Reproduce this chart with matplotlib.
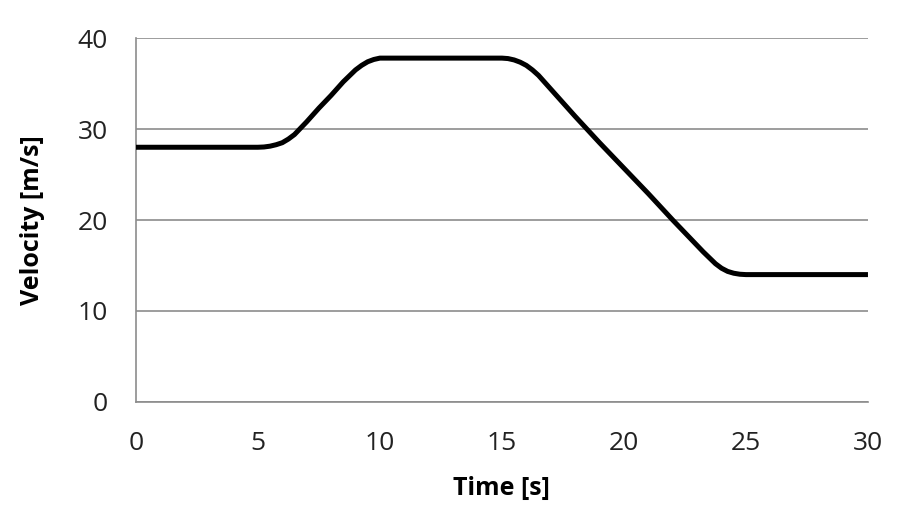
import matplotlib.pyplot as plt

# velocity profile
time_s = [0, 5, 5.25, 5.5, 5.75, 6, 6.25, 6.5, 7, 7.5, 8, 8.5, 9, 9.25, 9.5, 9.75, 10,
          15, 15.25, 15.5, 15.75, 16, 16.25, 16.5, 17, 18, 19, 20, 21, 22, 23, 23.25, 23.5, 23.75, 24, 24.25, 24.5, 24.75, 25, 30]
velocity = [28, 28, 28.03, 28.12, 28.28, 28.5, 28.9, 29.4, 30.8, 32.3, 33.7, 35.2, 36.5, 37.0, 37.4, 37.65, 37.8,
            37.8, 37.75, 37.6, 37.35, 37.0, 36.5, 35.9, 34.4, 31.4, 28.5, 25.7, 22.9, 20.0, 17.2, 16.5, 15.85, 15.2, 14.7, 14.35, 14.15, 14.04, 14.0, 14.0]
x_ticks = [0, 5, 10, 15, 20, 25, 30]
y_ticks = [0, 10, 20, 30, 40]

plt.rcParams['font.family'] = ['Open Sans', 'DejaVu Sans']

fig = plt.figure(figsize=(9.18, 5.22), dpi=100)
ax = fig.add_axes([0.148, 0.23, 0.7975, 0.697])

ax.plot(time_s, velocity, color='black', linewidth=3.6, solid_capstyle='butt', solid_joinstyle='round', zorder=3)

ax.set_xlim(0, 30)
ax.set_ylim(0, 40)
ax.set_xticks(x_ticks)
ax.set_yticks(y_ticks)
ax.grid(axis='y', color='#8c8c8c', linewidth=1.2)
ax.set_axisbelow(True)

for side in ['top', 'right']:
    ax.spines[side].set_visible(False)
for side in ['left', 'bottom']:
    ax.spines[side].set_color('#8c8c8c')
    ax.spines[side].set_linewidth(1.2)

ax.tick_params(length=0, labelsize=19, colors='#222222')
ax.tick_params(axis='x', pad=21)
ax.tick_params(axis='y', pad=20)
ax.set_xlabel('Time [s]', fontsize=18, fontweight='bold', labelpad=14)
ax.set_ylabel('Velocity [m/s]', fontsize=18, fontweight='bold', labelpad=24)

fig.savefig('out.png', dpi=100)
